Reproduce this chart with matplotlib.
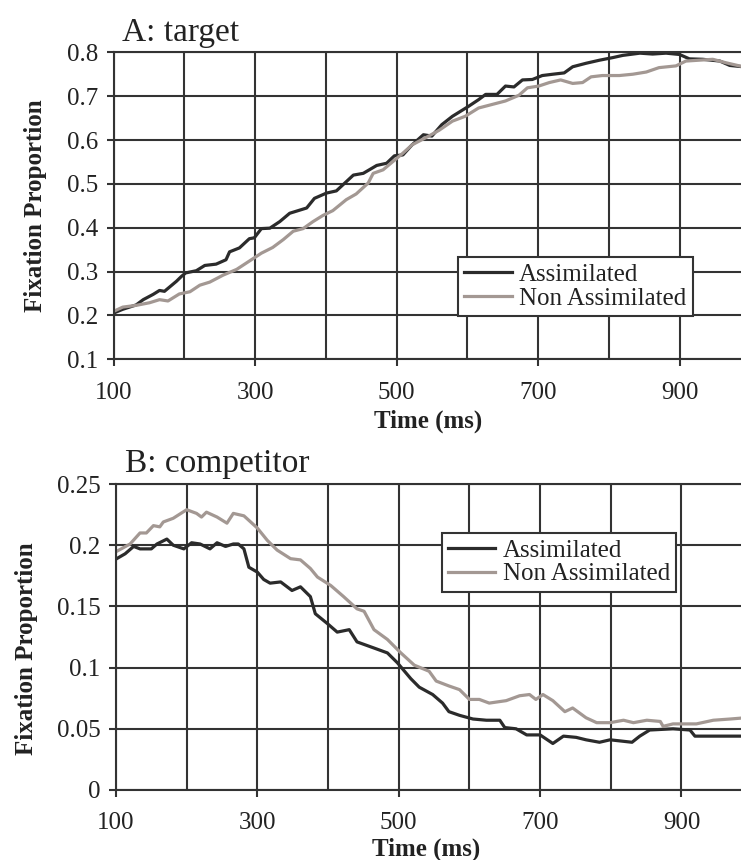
import numpy as np
import matplotlib
matplotlib.use('Agg')
import matplotlib.pyplot as plt
from matplotlib.ticker import FormatStrFormatter, MultipleLocator

########################## Dados ######################
########################################################################

# A: target
timeA_assim = [101, 113, 132, 142, 156, 165, 172, 189, 196, 202, 217, 229,
  245, 259, 264, 278, 292, 299, 309, 321, 335, 349, 373, 384, 401, 415,
  429, 439, 453, 472, 486, 497, 509, 522, 538, 550, 564, 579, 602, 616,
  626, 642, 654, 666, 678, 692, 706, 721, 737, 749, 768, 787, 806, 820,
  844, 862, 881, 900, 914, 933, 957, 971, 990]
propA_assim = [0.206, 0.214, 0.224, 0.236, 0.248, 0.257, 0.255, 0.278, 0.289,
  0.297, 0.302, 0.314, 0.317, 0.327, 0.345, 0.354, 0.375, 0.377, 0.398,
  0.399, 0.414, 0.433, 0.445, 0.467, 0.479, 0.484, 0.505, 0.520, 0.524,
  0.542, 0.547, 0.564, 0.566, 0.589, 0.612, 0.609, 0.635, 0.654, 0.677,
  0.692, 0.704, 0.704, 0.723, 0.721, 0.737, 0.738, 0.747, 0.750, 0.753,
  0.767, 0.775, 0.782, 0.788, 0.793, 0.798, 0.796, 0.798, 0.795, 0.785,
  0.784, 0.780, 0.770, 0.767]

timeA_nonassim = [101, 113, 132, 151, 165, 177, 193, 208, 222, 236, 255, 274,
  292, 309, 325, 340, 354, 368, 382, 396, 410, 429, 443, 460, 467, 481,
  495, 509, 522, 541, 560, 579, 597, 616, 635, 654, 673, 685, 701, 716,
  732, 749, 763, 775, 791, 815, 834, 853, 871, 895, 909, 928, 947, 966,
  990]
propA_nonassim = [0.210, 0.219, 0.223, 0.229, 0.236, 0.233, 0.249, 0.254,
  0.269, 0.276, 0.292, 0.305, 0.324, 0.342, 0.355, 0.373, 0.392, 0.398,
  0.414, 0.428, 0.439, 0.464, 0.477, 0.502, 0.524, 0.532, 0.551, 0.570,
  0.589, 0.605, 0.622, 0.643, 0.654, 0.673, 0.681, 0.689, 0.702, 0.719,
  0.723, 0.731, 0.737, 0.729, 0.731, 0.744, 0.747, 0.747, 0.750, 0.755,
  0.765, 0.769, 0.780, 0.782, 0.784, 0.776, 0.767]

# B: competitor
timeB_assim = [101, 113, 125, 134, 150, 158, 172, 181, 196, 207, 219, 233,
  243, 255, 266, 273, 281, 288, 300, 309, 318, 333, 349, 361, 375, 382,
  399, 413, 430, 441, 465, 484, 498, 517, 529, 548, 562, 571, 586, 605,
  624, 643, 650, 666, 681, 700, 718, 733, 751, 765, 784, 799, 830, 841,
  855, 888, 912, 919, 955, 990]
propB_assim = [0.189, 0.193, 0.199, 0.197, 0.197, 0.201, 0.205, 0.200, 0.197,
  0.202, 0.201, 0.197, 0.202, 0.199, 0.201, 0.201, 0.197, 0.182, 0.178,
  0.172, 0.169, 0.170, 0.163, 0.166, 0.158, 0.144, 0.136, 0.129, 0.131,
  0.121, 0.116, 0.112, 0.104, 0.091, 0.084, 0.078, 0.071, 0.064, 0.061,
  0.058, 0.057, 0.057, 0.051, 0.050, 0.045, 0.045, 0.038, 0.044, 0.043,
  0.041, 0.039, 0.041, 0.039, 0.044, 0.049, 0.050, 0.049, 0.044, 0.044,
  0.044]

timeB_nonassim = [101, 120, 134, 143, 153, 162, 167, 181, 200, 214, 221, 228,
  243, 257, 266, 281, 300, 314, 328, 347, 361, 375, 385, 404, 422, 441,
  451, 465, 484, 503, 522, 543, 553, 571, 586, 600, 614, 628, 652, 671,
  685, 694, 704, 718, 735, 746, 765, 780, 799, 818, 832, 851, 870, 874,
  888, 921, 945, 969, 990]
propB_nonassim = [0.195, 0.201, 0.210, 0.210, 0.216, 0.215, 0.219, 0.222,
  0.229, 0.226, 0.223, 0.227, 0.223, 0.218, 0.226, 0.224, 0.214, 0.204,
  0.196, 0.189, 0.188, 0.181, 0.174, 0.167, 0.158, 0.148, 0.146, 0.131,
  0.123, 0.112, 0.102, 0.097, 0.089, 0.085, 0.082, 0.074, 0.074, 0.071,
  0.073, 0.077, 0.078, 0.074, 0.078, 0.073, 0.064, 0.067, 0.059, 0.055,
  0.055, 0.057, 0.055, 0.057, 0.056, 0.052, 0.054, 0.054, 0.057, 0.058,
  0.059]

labels = ['Assimilated', 'Non Assimilated']
xticksMajor = [100, 300, 500, 700, 900]

########################################################################

plt.rcParams['font.family'] = ['Liberation Serif', 'DejaVu Serif']

darkColor = '#2b2b2b'
grayColor = '#a39893'
gridColor = '#333333'
textColor = '#222222'

def MakePanel(ax, title, tA, yA, tN, yN, ylim, ystep, legendAnchor):
  ax.plot(tA, yA, color=darkColor, linewidth=2.3, label=labels[0])
  ax.plot(tN, yN, color=grayColor, linewidth=2.3, label=labels[1])

  ax.set_xlim(100, 1000)
  ax.set_ylim(*ylim)
  ax.set_xticks(xticksMajor)
  ax.xaxis.set_minor_locator(MultipleLocator(100))
  ax.yaxis.set_major_locator(MultipleLocator(ystep))
  ax.yaxis.set_major_formatter(FormatStrFormatter('%g'))

  ax.set_axisbelow(True)
  ax.grid(True, which='both', axis='x', color=gridColor, linewidth=1.5)
  ax.grid(True, which='major', axis='y', color=gridColor, linewidth=1.5)
  for s in ax.spines.values():
    s.set_color(gridColor)
    s.set_linewidth(1.5)

  ax.tick_params(axis='both', which='major', direction='out', length=5,
      width=1.5, color=gridColor, labelsize=18, labelcolor=textColor)
  ax.tick_params(axis='x', which='major', pad=11)
  ax.tick_params(axis='y', which='major', pad=6)
  ax.tick_params(axis='x', which='minor', length=0)

  ax.text(0.014, 1.015, title, transform=ax.transAxes, fontsize=24,
      color=textColor, ha='left', va='bottom')

  leg = ax.legend(loc='lower left', bbox_to_anchor=legendAnchor,
      borderaxespad=0, fancybox=False, framealpha=1, fontsize=18,
      handlelength=1.9, handletextpad=0.3, labelspacing=0.05,
      borderpad=0.25)
  leg.get_frame().set_edgecolor(gridColor)
  leg.get_frame().set_linewidth(1.5)
  for t in leg.get_texts():
    t.set_color(textColor)


fig = plt.figure(figsize=(7.41, 8.6), dpi=100)

axA = fig.add_axes([0.1532, 0.5822, 0.8593, 0.357])
MakePanel(axA, 'A: target', timeA_assim, propA_assim, timeA_nonassim,
    propA_nonassim, (0.1, 0.8), 0.1, (0.541, 0.141))

axB = fig.add_axes([0.1565, 0.0814, 0.8586, 0.3558])
MakePanel(axB, 'B: competitor', timeB_assim, propB_assim, timeB_nonassim,
    propB_nonassim, (0.0, 0.25), 0.05, (0.512, 0.648))

# Rotulos dos eixos.
fig.text(36/741, 1 - 206/860, 'Fixation Proportion', rotation=90,
    fontsize=18, fontweight='bold', ha='center', va='center', color=textColor)
fig.text(27/741, 1 - 649/860, 'Fixation Proportion', rotation=90,
    fontsize=18, fontweight='bold', ha='center', va='center', color=textColor)
fig.text(428/741, 1 - 421/860, 'Time (ms)', fontsize=18, fontweight='bold',
    ha='center', va='center', color=textColor)
fig.text(426/741, 1 - 849/860, 'Time (ms)', fontsize=18, fontweight='bold',
    ha='center', va='center', color=textColor)

fig.savefig('out.png', dpi=100)
